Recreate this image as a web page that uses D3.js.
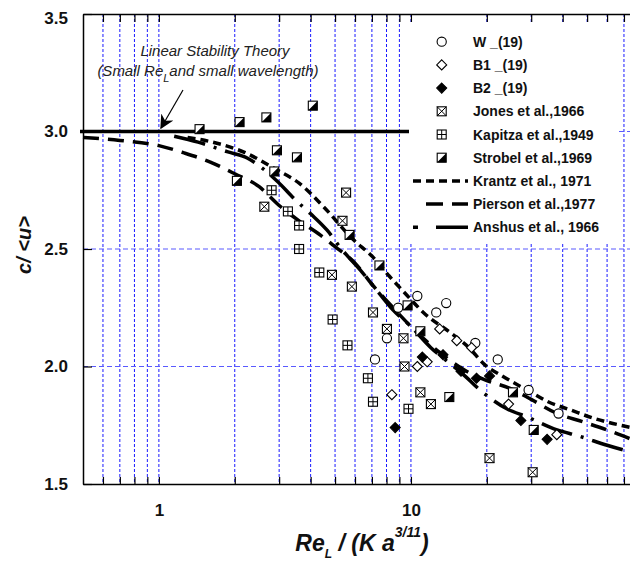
<!DOCTYPE html>
<html lang="en">
<head>
<meta charset="UTF-8">
<title>Wave celerity vs Re</title>
<style>
  body { margin: 0; background: #fff; }
  svg { display: block; font-family: "Liberation Sans", Arial, sans-serif; }
</style>
</head>
<body>
<script src="https://cdn.jsdelivr.net/npm/d3@7/dist/d3.min.js"></script>
<script>
var wData = [[7.2,2.03],[8.03,2.12],[8.9,2.25],[10.6,2.30],[12.6,2.23],[13.8,2.27],[18.0,2.10],[22.1,2.03],[29.3,1.90],[38.5,1.80]];
var b1Data = [[8.4,1.88],[10.6,2.0],[11.6,2.02],[13.0,2.16],[15.2,2.11],[17.4,2.08],[24.4,1.84],[37.9,1.71]];
var b2Data = [[8.66,1.74],[11.1,2.04],[13.4,2.05],[15.8,1.98],[18.2,1.95],[20.5,1.96],[27.3,1.77],[34.7,1.69]];
var jonesData = [[2.62,2.68],[4.86,2.39],[5.35,2.62],[5.53,2.74],[5.83,2.34],[7.07,2.23],[8.03,2.16],[9.34,2.12],[9.43,2.0],[10.9,1.89],[12.0,1.84],[20.5,1.61],[30.4,1.55]];
var kapitzaData = [[2.8,2.75],[3.25,2.66],[3.6,2.6],[3.6,2.5],[4.33,2.4],[4.89,2.2],[5.6,2.09],[6.75,1.95],[7.07,1.85],[9.78,1.82]];
var strobelData = [[1.45,3.01],[2.04,2.79],[2.09,3.04],[2.67,3.06],[2.87,2.83],[2.94,2.92],[3.53,2.89],[4.08,3.11],[5.71,2.56],[7.5,2.43],[9.7,2.26],[10.9,2.15],[14.2,1.87],[25.4,1.89],[30.7,1.73]];

var krantz = [[1.3,2.975],[1.7,2.95],[2.2,2.91],[2.9,2.84],[3.6,2.78],[4.5,2.68],[5.9,2.54],[7.0,2.47],[8.2,2.385],[9.7,2.30],[11.2,2.23],[14.5,2.14],[17,2.08],[19.5,2.01],[23,1.96],[30,1.89],[35,1.85],[43,1.815],[53,1.78],[75,1.74]];
var pierson = [[0.5,2.975],[0.7,2.962],[1.0,2.94],[1.25,2.91],[1.6,2.87],[2.0,2.82],[2.5,2.765],[3.0,2.685],[3.6,2.62],[4.3,2.565],[5.0,2.51],[6.0,2.44],[7.0,2.35],[8.5,2.25],[10,2.17],[13,2.06],[16,1.99],[20,1.94],[25,1.905],[30,1.86],[38,1.80],[48,1.765],[60,1.73],[75,1.69]];
var anshus = [[1.15,2.98],[1.43,2.955],[1.88,2.913],[2.24,2.887],[2.6,2.84],[2.97,2.785],[3.47,2.71],[4.0,2.65],[4.65,2.58],[5.3,2.50],[6.3,2.41],[7.5,2.31],[8.5,2.24],[10,2.17],[12,2.08],[14,2.02],[16,1.97],[18.8,1.90],[24,1.82],[29,1.785],[38,1.73],[46,1.705],[60,1.665],[75,1.635]];

var linearTheory = 3.0;          // c/<u> from linear stability theory
var linearTheoryRange = [0.5, 10];

var xGrid = [0.6,0.7,0.8,0.9,1,2,3,4,5,6,7,8,9,10,20,30,40,50,60,70,80,90];
var xLabels = [1, 10];
var yTicks = [1.5, 2.0, 2.5, 3.0, 3.5];
var yGrid = [2.0, 2.5, 3.0];

var W = 630, H = 561;
var margin = {left: 83, top: 14, bottom: 77};

var svg = d3.select("body").append("svg")
    .attr("width", W).attr("height", H);

var x = d3.scaleLog().domain([0.5, 100]).range([margin.left, 663]);
var y = d3.scaleLinear().domain([1.5, 3.5]).range([H - margin.bottom, margin.top]);

// grid
svg.append("g").selectAll("line").data(xGrid).join("line")
    .attr("x1", d => x(d)).attr("x2", d => x(d))
    .attr("y1", y(3.5)).attr("y2", y(1.5))
    .attr("stroke", "#1a1aff").attr("stroke-width", 1)
    .attr("stroke-dasharray", "3,2");
svg.append("g").selectAll("line").data(yGrid).join("line")
    .attr("x1", x(0.5)).attr("x2", x(100))
    .attr("y1", d => y(d)).attr("y2", d => y(d))
    .attr("stroke", "#5a5aff").attr("stroke-width", 1.2)
    .attr("stroke-dasharray", "5,3");

// theory curves
var line = d3.line().x(d => x(d[0])).y(d => y(d[1])).curve(d3.curveMonotoneX);
var curves = [
    {data: krantz, dash: "8,5"},
    {data: pierson, dash: "16,9"},
    {data: anshus, dash: "32,9,3,9"}
];
svg.append("g").selectAll("path").data(curves).join("path")
    .attr("d", d => line(d.data))
    .attr("fill", "none").attr("stroke", "#000")
    .attr("stroke-width", 3.5)
    .attr("stroke-dasharray", d => d.dash);

// linear stability line
svg.append("line")
    .attr("x1", x(linearTheoryRange[0]) - 3).attr("x2", x(linearTheoryRange[1]))
    .attr("y1", y(linearTheory)).attr("y2", y(linearTheory))
    .attr("stroke", "#000").attr("stroke-width", 3.5);

// marker shapes
function drawShape(g, kind) {
    var h = 4.5;
    if (kind === "circle") {
        g.append("circle").attr("r", 4.6).attr("fill", "#fff").attr("stroke", "#000").attr("stroke-width", 1.1);
        return;
    }
    if (kind === "diamond" || kind === "diamondFill") {
        g.append("path").attr("d", "M0,-5L5,0L0,5L-5,0Z")
            .attr("fill", kind === "diamond" ? "#fff" : "#000")
            .attr("stroke", "#000").attr("stroke-width", 1.1);
        return;
    }
    g.append("rect").attr("x", -h).attr("y", -h).attr("width", 2 * h).attr("height", 2 * h)
        .attr("fill", "#fff").attr("stroke", "#000").attr("stroke-width", 1.1);
    if (kind === "jones") {
        g.append("path").attr("d", `M${-h},${-h}L${h},${h}M${h},${-h}L${-h},${h}`)
            .attr("stroke", "#000").attr("stroke-width", 1);
    } else if (kind === "kapitza") {
        g.append("path").attr("d", `M0,${-h}V${h}M${-h},0H${h}`)
            .attr("stroke", "#000").attr("stroke-width", 1);
    } else if (kind === "strobel") {
        g.append("path").attr("d", `M${h},${-h}L${h},${h}L${-h},${h}Z`).attr("fill", "#000");
    }
}

var series = [
    {data: jonesData, kind: "jones"},
    {data: kapitzaData, kind: "kapitza"},
    {data: strobelData, kind: "strobel"},
    {data: wData, kind: "circle"},
    {data: b1Data, kind: "diamond"},
    {data: b2Data, kind: "diamondFill"}
];
series.forEach(function(s) {
    svg.append("g").selectAll("g").data(s.data).join("g")
        .attr("transform", d => "translate(" + x(d[0]) + "," + y(d[1]) + ")")
        .each(function() { drawShape(d3.select(this), s.kind); });
});

// annotation
var ann = svg.append("g").attr("font-style", "italic").attr("font-size", 15).attr("fill", "#222")
    .attr("text-anchor", "middle");
ann.append("text").attr("x", 215).attr("y", 56).text("Linear Stability Theory");
var t2 = ann.append("text").attr("x", 208).attr("y", 76);
t2.append("tspan").text("(Small Re");
t2.append("tspan").attr("font-size", 11).attr("dy", 6).text("L");
t2.append("tspan").attr("dy", -6).text("and small wavelength)");

svg.append("defs").append("marker").attr("id", "arr")
    .attr("viewBox", "0 0 10 10").attr("refX", 9).attr("refY", 5)
    .attr("markerWidth", 14).attr("markerHeight", 14).attr("markerUnits", "userSpaceOnUse")
    .attr("orient", "auto")
    .append("path").attr("d", "M0,0L10,5L0,10L3,5Z").attr("fill", "#000");
svg.append("line").attr("x1", 183).attr("y1", 90).attr("x2", 161).attr("y2", 128)
    .attr("stroke", "#000").attr("stroke-width", 1.2).attr("marker-end", "url(#arr)");

// legend
var legend = svg.append("g");
legend.append("rect").attr("x", 409).attr("y", 23).attr("width", 210).attr("height", 220).attr("fill", "#fff");
var legendItems = [
    {label: "W _(19)", kind: "circle"},
    {label: "B1 _(19)", kind: "diamond"},
    {label: "B2 _(19)", kind: "diamondFill"},
    {label: "Jones et al.,1966", kind: "jones"},
    {label: "Kapitza et al.,1949", kind: "kapitza"},
    {label: "Strobel et al.,1969", kind: "strobel"},
    {label: "Krantz et al., 1971", dash: "8,5"},
    {label: "Pierson et al.,1977", dash: "0,13,17,9,17,9"},
    {label: "Anshus et al., 1966", dash: "5,18,32,4"}
];
legendItems.forEach(function(it, i) {
    var ly = 41.7 + i * 23.2;
    if (it.kind) {
        var g = legend.append("g").attr("transform", "translate(441.7," + ly + ")");
        drawShape(g, it.kind);
    } else {
        legend.append("line").attr("x1", 413).attr("x2", 468).attr("y1", ly).attr("y2", ly)
            .attr("stroke", "#000").attr("stroke-width", 3.5)
            .attr("stroke-dasharray", it.dash);
    }
    legend.append("text").attr("x", 473).attr("y", ly + 5)
        .attr("font-size", 14).attr("font-weight", "bold").attr("fill", "#111")
        .text(it.label);
});

// axes
var axB = svg.append("g").attr("transform", "translate(0," + y(1.5) + ")")
    .call(d3.axisBottom(x).tickValues(xGrid).tickSize(-7).tickSizeOuter(0).tickPadding(20)
        .tickFormat(d => xLabels.indexOf(d) >= 0 ? d : ""));
var axT = svg.append("g").attr("transform", "translate(0," + y(3.5) + ")")
    .call(d3.axisTop(x).tickValues(xGrid).tickSize(-8).tickSizeOuter(0).tickFormat(""));
var axL = svg.append("g").attr("transform", "translate(" + x(0.5) + ",0)")
    .call(d3.axisLeft(y).tickValues(yTicks).tickSize(-9).tickSizeOuter(0).tickPadding(15)
        .tickFormat(d3.format(".1f")));
[axB, axT, axL].forEach(function(a) {
    a.select(".domain").attr("stroke", "#000").attr("stroke-width", 1.5);
    a.selectAll(".tick line").attr("stroke", "#000").attr("stroke-width", 1.2);
    a.selectAll("text").attr("font-size", 17).attr("font-weight", "bold").attr("fill", "#111")
        .attr("font-family", "Liberation Sans, Arial, sans-serif");
});
axL.selectAll(".tick text").filter(d => d === 3.5).attr("dy", "0.55em");

// axis titles
var xt = svg.append("text").attr("x", 362).attr("y", 551)
    .attr("text-anchor", "middle").attr("font-size", 23).attr("font-weight", "bold")
    .attr("font-style", "italic").attr("fill", "#111");
xt.append("tspan").text("Re");
xt.append("tspan").attr("font-size", 12).attr("dy", 7).text("L");
xt.append("tspan").attr("dy", -7).text(" / (K a");
xt.append("tspan").attr("font-size", 14).attr("dy", -14).text("3/11");
xt.append("tspan").attr("dy", 14).text(")");

svg.append("text").attr("transform", "translate(31,245) rotate(-90)")
    .attr("text-anchor", "middle").attr("font-size", 20).attr("font-weight", "bold")
    .attr("font-style", "italic").attr("fill", "#111")
    .text("c/ <u>");
</script>
</body>
</html>
